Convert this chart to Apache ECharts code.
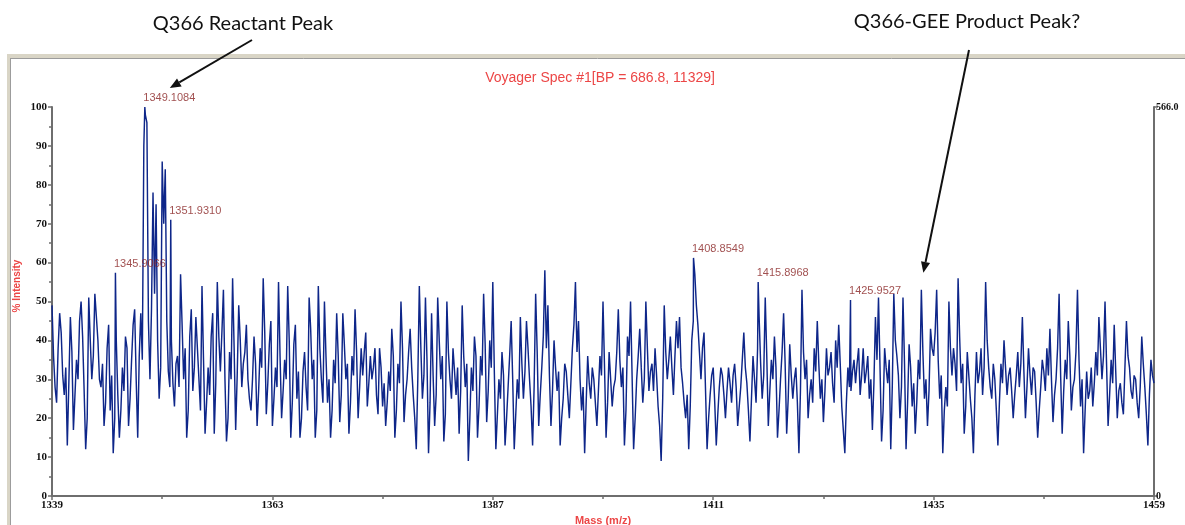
<!DOCTYPE html>
<html>
<head>
<meta charset="utf-8">
<script src="https://cdn.jsdelivr.net/npm/echarts@6/dist/echarts.min.js"></script>
<style>
  html, body { margin: 0; padding: 0; background: #ffffff; }
  #chart { width: 1185px; height: 525px; }
</style>
</head>
<body>
<div id="chart"></div>
<script>
// Mass range of the acquired spectrum
const massStart = 1339;
const massEnd = 1459;

// % intensity, evenly sampled (1/6 m/z) from 1339 to 1459
const intensity = [
  49,36, 28,24, 38,47, 42,31, 26,33, 13,29, 46,37, 17,26, 35,30, 45,50, 41,27, 12,20, 51,40, 30,36, 52,46, 40,30, 28,34, 18,24, 38,44, 22,31, 11,20, 40,26, 15,22, 33,27, 41,38, 18,25, 35,44, 48,30, 15,36, 47,35,
  90,98, 96,45, 30,48, 78,52, 75,40, 25,33, 86,70, 84,45, 32,28, 40,29, 23,34, 36,28, 57,44, 30,38, 15,22, 41,48, 27,33, 46,38, 30,22, 54,35, 16,24, 33,26, 41,47, 16,29, 55,41, 32,42, 53,30, 14,20, 37,30, 56,38,
  17,31, 49,40, 28,34, 37,44, 30,25, 22,30, 41,34, 18,27, 38,33, 56,42, 21,29, 39,45, 18,25, 33,28, 55,36, 20,27, 35,30, 54,40, 15,24, 39,44, 25,32, 15,20, 32,37, 28,22, 51,43, 30,35, 15,22, 54,38, 30,24, 50,36,
  24,30, 15,22, 35,29, 47,36, 19,26, 47,39, 30,34, 16,24, 36,31, 48,37, 20,28, 38,31, 37,42, 23,29, 36,30, 33,38, 26,21, 38,33, 23,29, 18,24, 32,27, 43,36, 15,22, 34,29, 50,38, 19,26, 30,37, 43,33, 26,20, 12,30,
  54,38, 25,31, 51,35, 11,24, 47,31, 18,26, 51,40, 30,36, 14,21, 50,37, 30,25, 38,32, 26,33, 16,27, 49,36, 28,34, 9,20, 33,27, 41,36, 15,23, 36,31, 52,39, 19,27, 40,33, 55,32, 12,21, 30,25, 37,31, 13,20, 28,36,
  45,30, 12,21, 30,25, 46,34, 25,32, 45,38, 30,23, 13,28, 52,37, 18,26, 33,41, 58,38, 49,31, 18,27, 40,33, 27,32, 13,20, 25,34, 32,26, 20,29, 38,44, 55,37, 45,30, 22,28, 11,24, 36,29, 25,33, 30,24, 18,27, 36,31,
  50,33, 15,24, 37,30, 23,28, 30,37, 48,35, 28,33, 13,22, 41,36, 50,31, 12,20, 30,36, 43,33, 24,30, 50,38, 27,32, 34,27, 38,31, 23,18, 9,25, 49,37, 30,35, 41,33, 26,36, 45,38, 46,33, 29,24, 20,26, 12,23, 40,45,
  57,49, 44,37, 30,38, 42,27, 12,20, 26,31, 33,24, 13,21, 28,33, 31,26, 20,27, 33,29, 24,31, 34,28, 18,23, 28,35, 42,33, 29,22, 14,25, 36,30, 24,38, 46,34, 25,31, 51,36, 18,27, 35,30, 41,33, 15,22, 30,37, 47,34,
  16,25, 39,31, 25,30, 33,24, 11,27, 53,37, 30,35, 20,26, 30,24, 38,32, 45,34, 25,30, 19,27, 38,31, 33,37, 29,24, 40,33, 44,34, 23,17, 11,24, 33,28, 27,32, 35,29, 34,38, 26,31, 38,29, 32,36, 25,30, 17,29, 46,35,
  51,33, 14,22, 38,33, 29,35, 12,28, 52,40, 36,31, 20,28, 51,34, 12,24, 39,33, 23,29, 16,24, 35,30, 53,37, 25,30, 18,27, 43,38, 36,42, 53,35, 25,31, 11,22, 28,23, 50,38, 31,38, 34,27, 56,41, 29,34, 16,23, 37,31,
  25,20, 11,26, 37,29, 32,38, 26,33, 55,40, 33,28, 25,34, 30,22, 13,24, 34,29, 40,33, 26,31, 33,27, 20,26, 31,37, 28,34, 46,32, 20,28, 38,31, 26,33, 32,24, 15,22, 28,35, 32,27, 38,31, 43,30, 19,26, 30,38, 52,31,
  16,27, 35,30, 45,36, 22,28, 30,37, 53,35, 23,30, 11,22, 32,25, 27,33, 23,29, 37,31, 46,38, 30,36, 50,34, 18,26, 35,29, 44,32, 20,27, 29,24, 21,33, 45,36, 33,27, 25,31, 30,24, 20,28, 41,34, 28,21, 13,26, 35,31, 29
];

// Labelled centroid peaks
const peakMasses = [1345.9066, 1349.1084, 1351.9310, 1408.8549, 1415.8968, 1425.9527];
const peakIntensities = [57.4, 100, 71, 61.2, 55, 50.4];

// Axis settings
const xTickStep = 24;
const yMax = 100;
const yTickStep = 10;
const rightAxisMax = 566.0;

// Headline annotations and the spectrum points they refer to
const annotationLabels = ['Q366 Reactant Peak', 'Q366-GEE Product Peak?'];
const annotationMasses = [1349.1084, 1433.6667];
const annotationIntensities = [100, 53];

const titleText = 'Voyager Spec #1[BP = 686.8, 11329]';
const xAxisTitle = 'Mass (m/z)';
const yAxisTitle = '% Intensity';

// ---- build the trace: regular samples plus labelled centroids, sorted by mass ----
const massStep = (massEnd - massStart) / (intensity.length - 1);
const trace = intensity.map((v, i) => [i * massStep, v]);
peakMasses.forEach((m, k) => trace.push([m - massStart, peakIntensities[k]]));
trace.sort((a, b) => a[0] - b[0]);

const peakPoints = peakMasses.map((m, k) => ({
  value: [m - massStart, peakIntensities[k]],
  name: m.toFixed(4)
}));

const tickFont = { fontFamily: 'Liberation Serif', fontWeight: 'bold', fontSize: 11, color: '#111' };
const axisGray = '#6e6e6e';

const chart = echarts.init(document.getElementById('chart'), null, { renderer: 'canvas' });

const option = {
  animation: false,
  backgroundColor: '#ffffff',
  title: {
    text: titleText,
    left: 595,
    top: 66,
    textAlign: 'center',
    textStyle: { fontFamily: 'Liberation Sans', fontSize: 14, fontWeight: 'normal', color: '#ec4646' }
  },
  grid: { left: 52, right: 31, top: 107, bottom: 29, containLabel: false },
  xAxis: {
    type: 'value',
    min: 0,
    max: massEnd - massStart,
    interval: xTickStep,
    axisLine: { lineStyle: { color: axisGray, width: 2 } },
    axisTick: { show: true, length: 4, lineStyle: { color: axisGray, width: 1.5 } },
    minorTick: { show: true, splitNumber: 2, length: 3, lineStyle: { color: axisGray, width: 1.5 } },
    splitLine: { show: false },
    axisLabel: Object.assign({ margin: 4, formatter: v => String(Math.round(v + massStart)) }, tickFont)
  },
  yAxis: [
    {
      type: 'value',
      min: 0,
      max: yMax,
      interval: yTickStep,
      axisLine: { show: true, lineStyle: { color: axisGray, width: 2 } },
      axisTick: { show: true, length: 4, lineStyle: { color: axisGray, width: 1.5 } },
      minorTick: { show: true, splitNumber: 2, length: 3, lineStyle: { color: axisGray, width: 1.5 } },
      splitLine: { show: false },
      axisLabel: Object.assign({ margin: 5 }, tickFont)
    },
    {
      type: 'value',
      position: 'right',
      min: 0,
      max: rightAxisMax,
      interval: rightAxisMax,
      axisLine: { show: true, lineStyle: { color: axisGray, width: 2 } },
      axisTick: { show: true, length: 4, lineStyle: { color: axisGray, width: 1.5 } },
      splitLine: { show: false },
      axisLabel: Object.assign({ margin: 2, formatter: v => (v === 0 ? '0' : v.toFixed(1)) }, tickFont, { fontSize: 10 })
    }
  ],
  series: [
    {
      name: 'spectrum',
      type: 'line',
      data: trace,
      showSymbol: false,
      symbol: 'none',
      sampling: false,
      lineStyle: { color: '#0e2689', width: 1.45 },
      z: 2
    },
    {
      name: 'peaks',
      type: 'scatter',
      data: peakPoints,
      symbolSize: 1,
      itemStyle: { color: 'rgba(0,0,0,0)' },
      label: {
        show: true,
        position: [-1, -14],
        formatter: p => p.name,
        fontFamily: 'Liberation Sans',
        fontSize: 11,
        color: '#8a2424'
      },
      z: 5
    }
  ]
};

chart.setOption(option);

// ---- window frame, axis titles and headline arrows ----
function arrowShapes(tail, tip, head) {
  const dx = tip[0] - tail[0], dy = tip[1] - tail[1];
  const len = Math.hypot(dx, dy);
  const ux = dx / len, uy = dy / len;
  const bx = tip[0] - ux * head, by = tip[1] - uy * head;
  const px = -uy * head * 0.42, py = ux * head * 0.42;
  return [
    { type: 'line', shape: { x1: tail[0], y1: tail[1], x2: bx, y2: by }, style: { stroke: '#111', lineWidth: 2 }, z: 20 },
    { type: 'polygon', shape: { points: [[tip[0], tip[1]], [bx + px, by + py], [bx - px, by - py]] }, style: { fill: '#111' }, z: 20 }
  ];
}

const textCenters = [[243, 24], [967, 22]];
const arrowTails = [[252, 40], [969, 50]];
const tipOffsets = [[25, -19], [2, -17]];

const graphics = [
  // window border
  { type: 'rect', shape: { x: 7, y: 54, width: 1185, height: 4 }, style: { fill: '#d9d5c6' }, z: 1 },
  { type: 'rect', shape: { x: 7, y: 54, width: 3, height: 480 }, style: { fill: '#d9d5c6' }, z: 1 },
  { type: 'line', shape: { x1: 10, y1: 58.5, x2: 1185, y2: 58.5 }, style: { stroke: '#9c9c9c', lineWidth: 1 }, z: 1 },
  { type: 'line', shape: { x1: 10.5, y1: 58, x2: 10.5, y2: 525 }, style: { stroke: '#9c9c9c', lineWidth: 1 }, z: 1 },
  // axis titles
  {
    type: 'text', x: 17, y: 286, rotation: Math.PI / 2,
    style: { text: yAxisTitle, fill: '#ec4646', font: 'bold 10px "Liberation Sans"', textAlign: 'center', textVerticalAlign: 'middle' },
    z: 10
  },
  {
    type: 'text', x: 603, y: 515,
    style: { text: xAxisTitle, fill: '#ec4646', font: 'bold 11px "Liberation Sans"', textAlign: 'center', textVerticalAlign: 'top' },
    z: 10
  }
];

annotationLabels.forEach((label, k) => {
  graphics.push({
    type: 'text', x: textCenters[k][0], y: textCenters[k][1],
    style: { text: label, fill: '#111', font: '20px Lato', textAlign: 'center', textVerticalAlign: 'middle' },
    z: 20
  });
  const p = chart.convertToPixel({ xAxisIndex: 0, yAxisIndex: 0 }, [annotationMasses[k] - massStart, annotationIntensities[k]]);
  const tip = [p[0] + tipOffsets[k][0], p[1] + tipOffsets[k][1]];
  arrowShapes(arrowTails[k], tip, 11).forEach(s => graphics.push(s));
});

chart.setOption({ graphic: graphics });
</script>
</body>
</html>
